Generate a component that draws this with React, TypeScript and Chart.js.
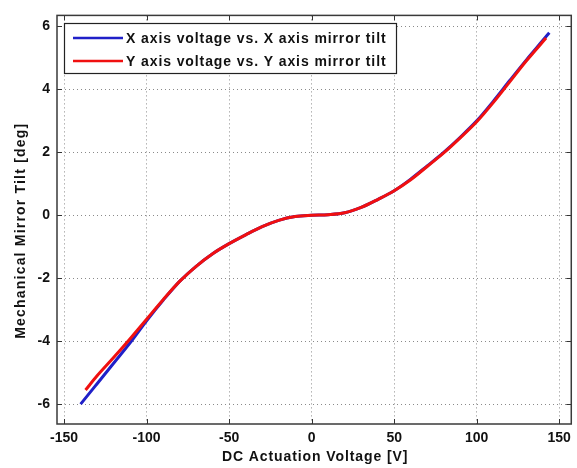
import React, { useEffect, useRef } from 'react';
import { Chart, registerables } from 'chart.js';

Chart.register(...registerables);

// X axis voltage vs X axis mirror tilt (blue)
const xVoltage = [-140, -130, -120, -110, -100, -90, -80, -70, -60, -50, -40, -30, -20, -10, 0, 10, 20, 30, 40, 50, 60, 70, 80, 90, 100, 110, 120, 130, 140, 144];
const xTilt = [-6.0, -5.35, -4.7, -4.05, -3.35, -2.7, -2.1, -1.62, -1.22, -0.9, -0.62, -0.36, -0.16, -0.04, 0.0, 0.02, 0.08, 0.25, 0.5, 0.78, 1.15, 1.57, 2.0, 2.48, 3.0, 3.62, 4.28, 4.93, 5.55, 5.8];

// Y axis voltage vs Y axis mirror tilt (red)
const yVoltage = [-137, -130, -120, -110, -100, -90, -80, -70, -60, -50, -40, -30, -20, -10, 0, 10, 20, 30, 40, 50, 60, 70, 80, 90, 100, 110, 120, 130, 142];
const yTilt = [-5.55, -5.1, -4.52, -3.92, -3.3, -2.68, -2.1, -1.62, -1.22, -0.9, -0.62, -0.36, -0.16, -0.04, 0.0, 0.02, 0.08, 0.25, 0.5, 0.78, 1.13, 1.55, 1.98, 2.46, 2.97, 3.58, 4.24, 4.9, 5.63];

const seriesLabels = ['X axis voltage vs. X axis mirror tilt', 'Y axis voltage vs. Y axis mirror tilt'];
const xTickValues = [-150, -100, -50, 0, 50, 100, 150];
const yTickValues = [-6, -4, -2, 0, 2, 4, 6];
const xTitle = 'DC Actuation Voltage [V]';
const yTitle = 'Mechanical Mirror Tilt [deg]';

const FONT_FAMILY = '"Liberation Sans", Arial, Helvetica, sans-serif';
const BLUE = '#2020c8';
const RED = '#f01010';

const framePlugin = {
  id: 'matlabFrame',
  afterDraw(chart: any) {
    const { ctx, chartArea: a, scales } = chart;
    const xs = scales.x;
    const ys = scales.y;
    ctx.save();
    // inward ticks
    ctx.strokeStyle = '#333';
    ctx.lineWidth = 1;
    ctx.setLineDash([]);
    ctx.beginPath();
    for (const v of xTickValues) {
      const px = Math.round(xs.getPixelForValue(v)) + 0.5;
      ctx.moveTo(px, a.bottom);
      ctx.lineTo(px, a.bottom - 5);
      ctx.moveTo(px, a.top);
      ctx.lineTo(px, a.top + 5);
    }
    for (const v of yTickValues) {
      const py = Math.round(ys.getPixelForValue(v)) + 0.5;
      ctx.moveTo(a.left, py);
      ctx.lineTo(a.left + 5, py);
      ctx.moveTo(a.right, py);
      ctx.lineTo(a.right - 5, py);
    }
    ctx.stroke();
    // frame
    ctx.strokeStyle = '#3a3a3a';
    ctx.lineWidth = 1.5;
    ctx.strokeRect(a.left, a.top, a.right - a.left, a.bottom - a.top);

    // axis titles
    ctx.fillStyle = '#111';
    ctx.font = 'bold 14px ' + FONT_FAMILY;
    ctx.textBaseline = 'middle';
    ctx.textAlign = 'center';
    (ctx as any).letterSpacing = '0.9px';
    ctx.fillText(xTitle, (a.left + a.right) / 2 + 1, 457);
    ctx.save();
    ctx.translate(21, (a.top + a.bottom) / 2 + 11);
    ctx.rotate(-Math.PI / 2);
    (ctx as any).letterSpacing = '1.2px';
    ctx.fillText(yTitle, 0, 0);
    ctx.restore();

    // legend box
    const bx = 64.5, by = 23.5, bw = 332, bh = 50;
    ctx.fillStyle = '#fff';
    ctx.fillRect(bx, by, bw, bh);
    ctx.strokeStyle = '#222';
    ctx.lineWidth = 1.2;
    ctx.strokeRect(bx, by, bw, bh);
    const rows = [38, 61];
    chart.data.datasets.forEach((ds: any, i: number) => {
      const y = rows[i];
      ctx.strokeStyle = ds.borderColor;
      ctx.lineWidth = 2.5;
      ctx.beginPath();
      ctx.moveTo(73, y);
      ctx.lineTo(123, y);
      ctx.stroke();
      ctx.fillStyle = '#111';
      ctx.font = 'bold 14px ' + FONT_FAMILY;
      ctx.textBaseline = 'middle';
      ctx.textAlign = 'left';
      (ctx as any).letterSpacing = '0.9px';
      ctx.fillText(ds.label, 126, y + 1);
    });
    ctx.restore();
  },
};

export default function App() {
  const ref = useRef<HTMLCanvasElement>(null);

  useEffect(() => {
    document.body.style.margin = '0';
    const canvas = ref.current;
    if (!canvas) return;
    const tickFont = { family: FONT_FAMILY, size: 14, weight: 'bold' as const };
    const chart = new Chart(canvas, {
      type: 'line',
      data: {
        datasets: [
          {
            label: seriesLabels[0],
            data: xVoltage.map((v, i) => ({ x: v, y: xTilt[i] })),
            borderColor: BLUE,
            backgroundColor: BLUE,
            borderWidth: 3,
            pointRadius: 0,
            cubicInterpolationMode: 'monotone',
            fill: false,
            order: 2,
          },
          {
            label: seriesLabels[1],
            data: yVoltage.map((v, i) => ({ x: v, y: yTilt[i] })),
            borderColor: RED,
            backgroundColor: RED,
            borderWidth: 3,
            pointRadius: 0,
            cubicInterpolationMode: 'monotone',
            fill: false,
            order: 1,
          },
        ],
      },
      options: {
        responsive: false,
        devicePixelRatio: 1,
        animation: false,
        layout: { padding: { top: 14, right: 4, left: 0, bottom: 0 } },
        plugins: {
          legend: { display: false },
          tooltip: { enabled: false },
        },
        scales: {
          x: {
            type: 'linear',
            min: -154.3,
            max: 157.3,
            afterBuildTicks: (s: any) => {
              s.ticks = xTickValues.map((v) => ({ value: v }));
            },
            afterFit: (s: any) => {
              s.height = 44;
            },
            ticks: {
              font: tickFont,
              color: '#111',
              padding: 6,
              maxRotation: 0,
              autoSkip: false,
              callback: (v: any) => String(v),
            },
            grid: { color: '#8a8a8a', lineWidth: 1, drawTicks: false, borderDash: [1, 3] } as any,
            border: { display: false, dash: [1, 3] },
            title: { display: false, text: xTitle },
          },
          y: {
            type: 'linear',
            min: -6.63,
            max: 6.35,
            afterBuildTicks: (s: any) => {
              s.ticks = yTickValues.map((v) => ({ value: v }));
            },
            afterFit: (s: any) => {
              s.width = 57;
            },
            ticks: {
              font: tickFont,
              color: '#111',
              padding: 7,
              autoSkip: false,
              callback: (v: any) => String(v),
            },
            grid: { color: '#8a8a8a', lineWidth: 1, drawTicks: false, borderDash: [1, 3] } as any,
            border: { display: false, dash: [1, 3] },
            title: { display: false, text: yTitle },
          },
        },
      },
      plugins: [framePlugin],
    });
    return () => chart.destroy();
  }, []);

  return (
    <canvas
      ref={ref}
      width={577}
      height={468}
      style={{ display: 'block', width: 577, height: 468 }}
    />
  );
}
